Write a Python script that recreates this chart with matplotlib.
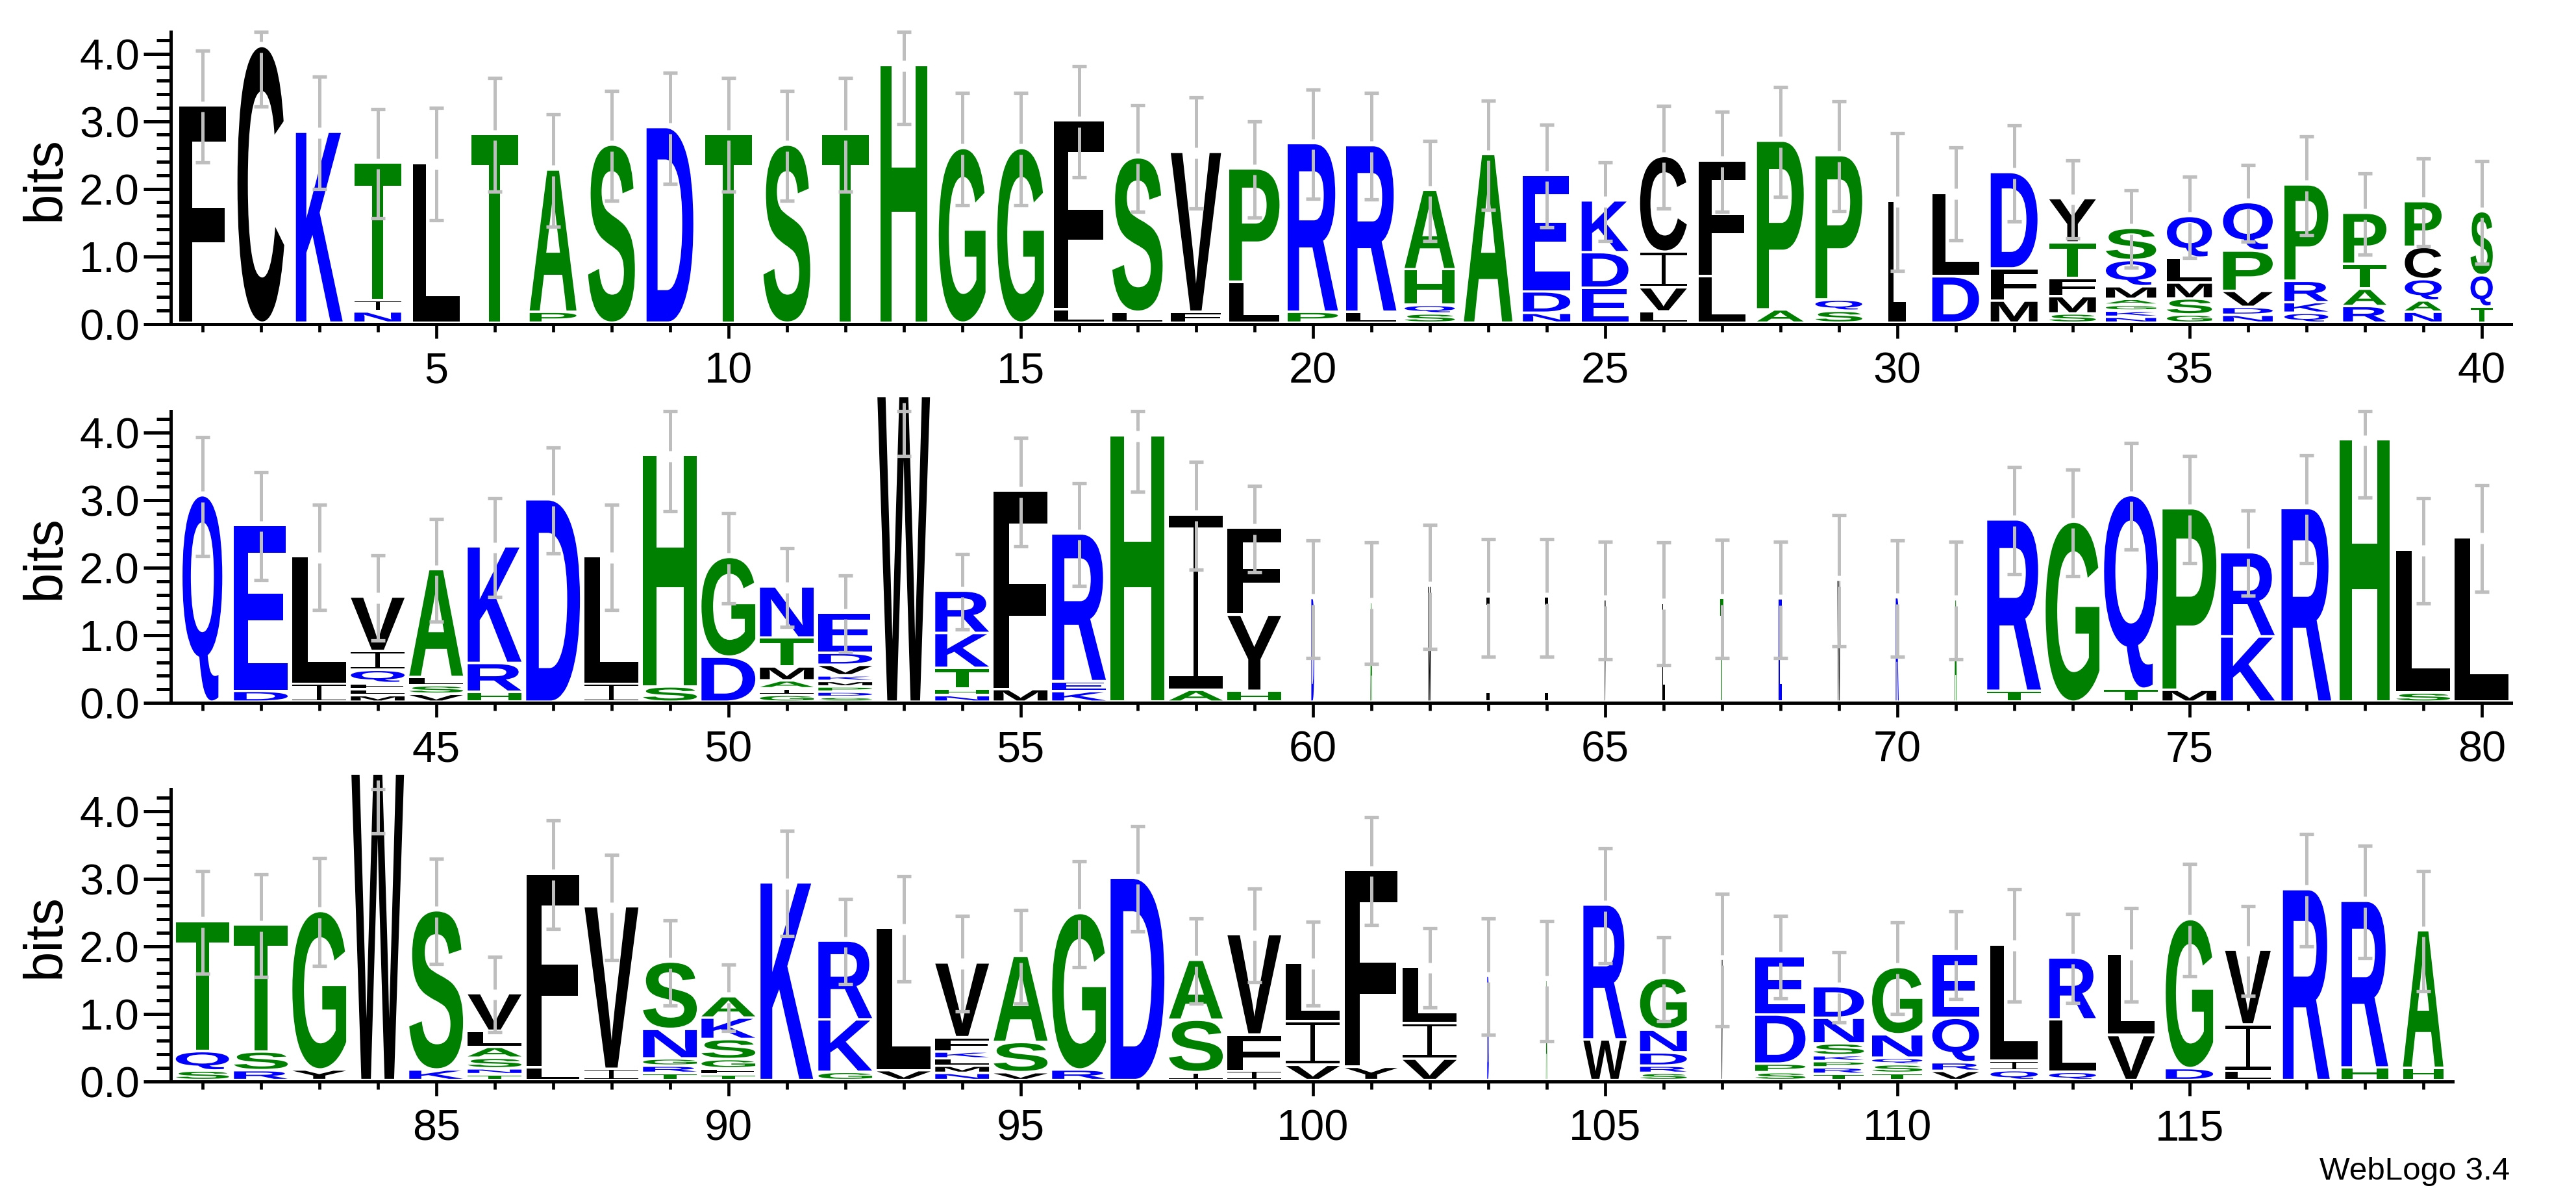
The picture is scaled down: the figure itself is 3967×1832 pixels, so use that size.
import matplotlib
matplotlib.use('Agg')
import matplotlib.pyplot as plt
from matplotlib.font_manager import FontProperties
from matplotlib.patches import PathPatch
from matplotlib.path import Path
from matplotlib.textpath import TextPath
from matplotlib.transforms import Affine2D

# letters of each stack, bottom to top, with the height of each letter in bits
LETTERS_1 = ['F', 'C', 'K', 'NIT', 'L', 'T', 'PA', 'S', 'D', 'T', 'S', 'T', 'H', 'G', 'G', 'LF', 'LS', 'FV', 'LP', 'PR',
             'LR', 'SQHA', 'A', 'NDE', 'EDK', 'LVIC', 'LF', 'AP', 'SQP', 'L', 'DL', 'MFD', 'SMFTY', 'NKGAMQS', 'GSMLQ',
             'NDVPQ', 'QKRP', 'RATP', 'NAQCP', 'TQS']
HEIGHTS_1 = [[3.18], [4.06], [2.79], [.13, .13, 2.0], [2.33], [2.76], [.125, 2.07], [2.60], [2.86], [2.76], [2.60],
             [2.76], [3.78], [2.55], [2.55], [.16, 2.76], [.125, 2.25], [.125, 2.33], [.57, 1.64], [.125, 2.46],
             [.125, 2.43], [.1, .09, .49, 1.14], [2.46], [.11, .28, 1.69], [.48, .49, .73], [.13, .32, .49, 1.38],
             [.65, 1.68], [.16, 2.46], [.14, .13, 2.10], [1.77], [.65, 1.20], [.29, .44, 1.39],
             [.1, .22, .23, .49, .62], [.05, .055, .05, .05, .15, .35, .44], [.085, .2, .2, .33, .58],
             [.08, .08, .2, .56, .68], [.11, .12, .28, 1.39], [.21, .22, .33, .72], [.125, .13, .28, .44, .64],
             [.2, .43, .91]]
ERRORS_1 = [.83, .88, .83, .81, .83, .84, .83, .81, .82, .84, .81, .84, .86, .83, .83, .82, .79, .82, .71, .81,
            .79, .74, .81, .76, .58, .76, .74, .81, .81, 1.02, .69, .71, .58, .57, .60, .57, .73, .60, .65, .76]
WIDTHS_1 = [.80, .80, .80, .80, .80, .80, .80, .80, .80, .80, .80, .80, .80, .80, .80, .86, .86, .86, .86, .86,
            .86, .86, .83, .81, .80, .80, .80, .80, .80, .30, .80, .80, .80, .86, .77, .85, .75, .74, .63, .38]

LETTERS_2 = ['Q', 'DE', 'IL', 'MLFQIV', 'VSLA', 'HRK', 'D', 'IL', 'SH', 'DG', 'GIAMTN', 'SDPMKVDE', 'W', 'NHTKR', 'MF',
             'KER', 'H', 'AI', 'HYF', 'D', 'A', 'M', 'I', 'I', 'V', 'L', 'T', 'E', 'W', 'R', 'A', 'TR', 'G', 'TQ', 'MP',
             'KR', 'R', 'H', 'SL', 'L']
HEIGHTS_2 = [[3.02], [.125, 2.42], [.23, 1.85], [.06, .055, .05, .16, .24, .77], [.08, .09, .085, 1.56],
             [.11, .39, 1.69], [2.96], [.23, 1.85], [.19, 3.39], [.63, 1.44], [.065, .06, .08, .17, .39, .72],
             [.035, .04, .04, .045, .045, .12, .14, .56], [4.49], [.06, .06, .27, .48, .59], [.15, 2.90],
             [.12, .11, 2.15], [3.91], [.14, 2.56], [.125, 1.09, 1.25], [1.50], [1.44], [1.68], [1.52], [1.52],
             [1.48], [1.43], [1.50], [1.49], [1.77], [1.51], [1.48], [.125, 2.50], [2.63], [.155, 2.83], [.14, 2.65],
             [.93, 1.21], [2.83], [3.85], [.10, 2.08], [2.40]]
ERRORS_2 = [.88, .80, .78, .63, .76, .73, .78, .78, .82, .67, .58, .57, .875, .56, .80, .76, .82, .80, .64, .87,
            .90, .92, .87, .87, .87, .91, .875, .86, .97, .86, .87, .79, .79, .79, .79, .63, .80, .85, .78, .79]
WIDTHS_2 = [.68, .92, .92, .92, .92, .92, .92, .92, .92, .92, .92, .92, .90, .92, .92, .92, .92, .92, .92, .05,
            .03, .05, .05, .05, .03, .04, .05, .05, .05, .05, .04, .92, .92, .92, .92, .92, .85, .86, .92, .92]

LETTERS_3 = ['SQT', 'RST', 'YG', 'W', 'KS', 'TNSALV', 'LF', 'IV', 'TRGNS', 'TFGSKA', 'K', 'GKR', 'VL', 'NMLKFV', 'VSA',
             'RG', 'D', 'ISA', 'IFV', 'VIL', 'YF', 'VIL', 'D', 'A', 'WR', 'SRDNG', 'V', 'SPDE', 'TRPKSND', 'TSQNG',
             'VRQE', 'QIL', 'QLR', 'VL', 'DG', 'LIV', 'R', 'HR', 'HA']
HEIGHTS_3 = [[.105, .25, 1.89], [.11, .24, 1.84], [.12, 2.31], [4.50], [.12, 2.32], [.05, .05, .12, .125, .2, .52],
             [.155, 2.83], [.13, 2.37], [.07, .07, .07, .40, .96], [.05, .05, .10, .26, .28, .28], [2.89],
             [.085, .74, 1.13], [.11, 2.07], [.07, .07, .07, .065, .175, 1.07], [.08, .41, 1.24], [.12, 2.28], [2.96],
             [.08, .74, .85], [.10, .50, 1.45], [.19, .61, .83], [.16, 2.88], [.28, .49, .80], [1.51], [1.45],
             [.565, 1.96], [.07, .07, .16, .30, .73], [1.76], [.08, .09, .69, .83],
             [.055, .06, .055, .05, .14, .34, .43], [.07, .09, .06, .31, .96], [.10, .09, .62, .91], [.11, .10, 1.69],
             [.085, .74, .88], [.63, 1.17], [.14, 2.17], [.10, .65, 1.07], [2.79], [.15, 2.43], [.145, 2.0]]
ERRORS_3 = [.76, .76, .80, .87, .78, .56, .80, .78, .63, .49, .78, .63, .78, .71, .69, .78, .78, .63, .69, .62,
            .80, .59, .86, .89, .85, .62, .98, .61, .52, .68, .65, .83, .66, .69, .83, .66, .83, .83, .89]
WIDTHS_3 = [.91, .92, .92, .90, .92, .92, .90, .92, .92, .92, .90, .92, .92, .92, .92, .92, .92, .92, .92, .92,
            .90, .92, .03, .02, .74, .80, .03, .86, .86, .86, .80, .81, .80, .80, .81, .78, .80, .80, .69]

BLUE = 'KRDENQ'
GREEN = 'AGSTPH'
LETTER_FONT = FontProperties(family='Liberation Sans', weight='bold')

W_PX, H_PX = 3967, 1833
LEFT_PX = 266.7
PX_PER_POS = 90.0
PX_PER_BIT = 104.0
Y_TOP = 4.32
START = 0.035  # stacks sit a little above the axis
GAP = 0.037    # space between two letters of a stack
HALO = 0.08    # error bar is broken around the top of the stack
GREY = '#bebebe'

plt.rcParams['font.family'] = 'Liberation Sans'

fig = plt.figure(figsize=(W_PX / 100, H_PX / 100), dpi=100)

# the reference I has a thin stem and two flat bars, no installed font has that
bar = 0.07
stem = 0.043
glyphs = {'I': Path([(0, 0), (1, 0), (1, bar), (0.5 + stem, bar), (0.5 + stem, 1 - bar), (1, 1 - bar), (1, 1), (0, 1),
                     (0, 1 - bar), (0.5 - stem, 1 - bar), (0.5 - stem, bar), (0, bar), (0, 0)])}


def letter_color(ch):
    if ch in BLUE:
        return '#0000ff'
    if ch in GREEN:
        return '#008000'
    return 'black'


def draw_letter(ax, ch, x, y, w, h):
    if ch not in glyphs:
        glyphs[ch] = TextPath((0, 0), ch, size=1, prop=LETTER_FONT)
    path = glyphs[ch]
    box = path.get_extents()
    move = Affine2D().translate(-box.x0, -box.y0).scale(w / box.width, h / box.height).translate(x - w / 2, y)
    ax.add_patch(PathPatch(path, transform=move + ax.transData, fc=letter_color(ch), lw=0, clip_on=False, zorder=2))


def draw_row(baseline_px, first, letters, heights, errors, widths):
    n = len(letters)
    rect = [LEFT_PX / W_PX, 1 - baseline_px / H_PX, n * PX_PER_POS / W_PX, Y_TOP * PX_PER_BIT / H_PX]
    ax = fig.add_axes(rect)
    ax.set_xlim(first - 0.5, first + n - 0.5)
    ax.set_ylim(0, Y_TOP)

    for i in range(n):
        x = first + i
        y = START
        for ch, h in zip(letters[i], heights[i]):
            draw_letter(ax, ch, x, y, widths[i], h)
            y += h + GAP
        top = y - GAP

        low = top - errors[i]
        high = min(top + errors[i], Y_TOP)
        ax.plot([x, x], [low, top - HALO], color=GREY, lw=3.6, solid_capstyle='butt', zorder=3, clip_on=False)
        if high > top + HALO:
            ax.plot([x, x], [top + HALO, high], color=GREY, lw=3.6, solid_capstyle='butt', zorder=3)
        ax.plot([x, x], [low, high], '_', color=GREY, ms=15.2, mew=3.8, zorder=3, clip_on=False)

    for side in ['top', 'right']:
        ax.spines[side].set_visible(False)
    ax.spines['left'].set_position(('outward', 3))
    ax.spines['left'].set_linewidth(3.6)
    ax.spines['bottom'].set_linewidth(3.6)

    positions = list(range(first, first + n))
    major_x = [p for p in positions if p % 5 == 0]
    ax.set_xticks(major_x)
    ax.set_xticklabels([str(p) for p in major_x], fontsize=48)
    ax.set_xticks(positions, minor=True)
    ax.tick_params(axis='x', which='major', length=16, width=3.4, pad=14)
    ax.tick_params(axis='x', which='minor', length=8.3, width=3.4)

    ax.set_yticks([0, 1, 2, 3, 4])
    ax.set_yticklabels(['0.0', '1.0', '2.0', '3.0', '4.0'], fontsize=48)
    ax.set_yticks([v * 0.2 for v in range(22)], minor=True)
    ax.tick_params(axis='y', which='major', length=30.6, width=3.6, pad=3.7)
    ax.tick_params(axis='y', which='minor', length=15.5, width=3.6)

    ax.patch.set_visible(False)
    fig.text(70 / W_PX, 1 - (baseline_px - Y_TOP * PX_PER_BIT / 2) / H_PX, 'bits', rotation=90, fontsize=60,
             ha='center', va='center')


draw_row(499.5, 1, LETTERS_1, HEIGHTS_1, ERRORS_1, WIDTHS_1)
draw_row(1083, 41, LETTERS_2, HEIGHTS_2, ERRORS_2, WIDTHS_2)
draw_row(1665.5, 81, LETTERS_3, HEIGHTS_3, ERRORS_3, WIDTHS_3)

fig.text(3865 / W_PX, 1 - 1816 / H_PX, 'WebLogo 3.4', ha='right', va='baseline', fontsize=35.6)

fig.savefig('out.png', dpi=100)
plt.close(fig)
